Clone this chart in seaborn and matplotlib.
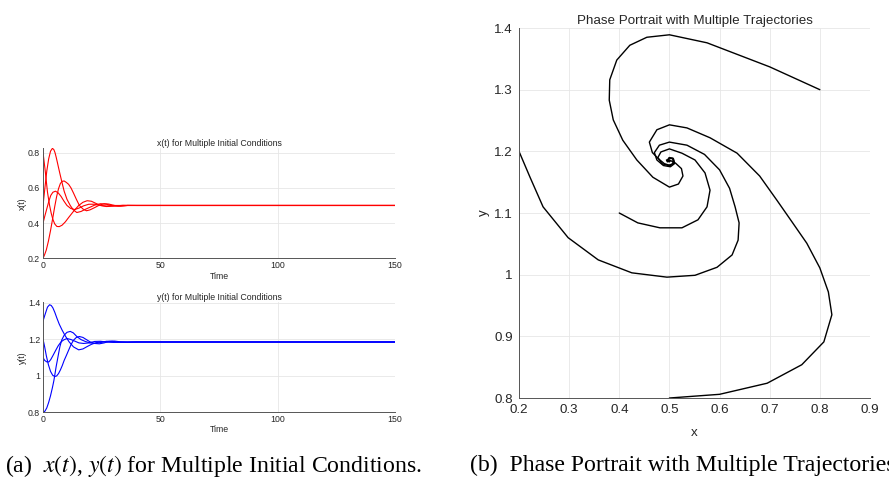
import matplotlib
matplotlib.use("Agg")
import matplotlib.pyplot as plt
import seaborn as sns

# trajectory A, starts at (0.8, 1.3)
t_a = [0, 0.9, 1.9, 2.8, 3.5, 4.2, 5.0, 5.9, 6.9, 8.1, 9.5, 11.1, 13.0, 15.2,
       17.0, 18.8, 20.6, 22.5, 24.5, 27, 30, 34, 40, 150]
x_a = [0.80, 0.70, 0.575, 0.50, 0.455, 0.421, 0.395, 0.381, 0.380, 0.388, 0.407,
       0.435, 0.467, 0.500, 0.518, 0.527, 0.524, 0.512, 0.500, 0.494, 0.496, 0.501,
       0.500, 0.500]
y_a = [1.300, 1.337, 1.376, 1.389, 1.385, 1.372, 1.348, 1.316, 1.283, 1.251, 1.218,
       1.186, 1.158, 1.142, 1.147, 1.160, 1.172, 1.181, 1.186, 1.186, 1.183, 1.184,
       1.185, 1.185]

# trajectory B, starts at (0.2, 1.2)
t_b = [0, 0.7, 1.4, 2.3, 3.2, 4.1, 5.0, 5.8, 6.6, 7.4, 8.2, 9.0, 9.9, 10.9, 11.9,
       13.0, 14.2, 15.5, 17, 18.5, 20, 22, 24, 26, 28, 30.5, 33, 36, 40, 150]
x_b = [0.200, 0.222, 0.248, 0.298, 0.358, 0.425, 0.495, 0.551, 0.595, 0.625, 0.637,
       0.639, 0.631, 0.620, 0.600, 0.570, 0.535, 0.500, 0.480, 0.470, 0.475, 0.488,
       0.502, 0.510, 0.508, 0.500, 0.496, 0.500, 0.500, 0.500]
y_b = [1.200, 1.158, 1.110, 1.060, 1.024, 1.003, 0.996, 0.999, 1.012, 1.032, 1.056,
       1.084, 1.110, 1.140, 1.170, 1.195, 1.210, 1.215, 1.210, 1.198, 1.186, 1.177,
       1.175, 1.180, 1.188, 1.190, 1.186, 1.183, 1.185, 1.185]

# trajectory C, starts at (0.4, 1.1)
t_c = [0, 0.7, 1.6, 2.5, 3.3, 4.2, 5.3, 6.5, 7.7, 8.9, 10.2, 11.8, 13.5, 15.3,
       17.3, 19.5, 22, 24.5, 27, 30, 35, 40, 150]
x_c = [0.400, 0.437, 0.481, 0.525, 0.557, 0.575, 0.581, 0.571, 0.551, 0.525, 0.500,
       0.483, 0.477, 0.485, 0.498, 0.507, 0.507, 0.500, 0.497, 0.500, 0.500, 0.500,
       0.500]
y_c = [1.100, 1.084, 1.076, 1.076, 1.089, 1.110, 1.137, 1.165, 1.186, 1.197, 1.204,
       1.199, 1.190, 1.180, 1.177, 1.180, 1.188, 1.189, 1.185, 1.184, 1.185, 1.185,
       1.185]

# trajectory D, starts at (0.5, 0.8)
t_d = [0, 0.8, 1.6, 2.4, 3.2, 4.0, 4.6, 5.1, 5.6, 6.1, 6.6, 7.2, 8.0, 9.0, 10.2,
       11.6, 12.9, 14.4, 16.2, 18, 20, 22, 24.5, 27, 29.5, 32, 36, 40, 150]
x_d = [0.500, 0.600, 0.695, 0.764, 0.808, 0.824, 0.817, 0.800, 0.774, 0.745, 0.715,
       0.680, 0.635, 0.581, 0.535, 0.500, 0.475, 0.460, 0.466, 0.478, 0.490, 0.502,
       0.510, 0.507, 0.499, 0.496, 0.500, 0.500, 0.500]
y_d = [0.800, 0.806, 0.824, 0.854, 0.891, 0.935, 0.972, 1.011, 1.051, 1.085, 1.120,
       1.160, 1.197, 1.222, 1.238, 1.243, 1.235, 1.215, 1.198, 1.188, 1.180, 1.177,
       1.182, 1.189, 1.189, 1.184, 1.184, 1.185, 1.185]

trajectories = [(t_a, x_a, y_a), (t_b, x_b, y_b), (t_c, x_c, y_c), (t_d, x_d, y_d)]

sns.set_style("whitegrid")
plt.rcParams["font.family"] = ["Liberation Sans", "DejaVu Sans"]
plt.rcParams["mathtext.fontset"] = "stix"

TEXT = "#262626"
AXIS = "#555555"


def style_ax(ax, fs, pad):
    ax.grid(True, color="#e6e6e6", lw=0.6)
    ax.set_axisbelow(True)
    for side in ["top", "right"]:
        ax.spines[side].set_visible(False)
    for side in ["left", "bottom"]:
        ax.spines[side].set_visible(True)
        ax.spines[side].set_color(AXIS)
        ax.spines[side].set_linewidth(0.7)
    ax.tick_params(direction="in", length=2.5, width=0.6, colors=AXIS,
                   labelcolor=TEXT, labelsize=fs, pad=pad)


fig = plt.figure(figsize=(8.89, 4.94), dpi=100)
ax1 = fig.add_axes([0.0484, 0.477, 0.396, 0.2227])
ax2 = fig.add_axes([0.0484, 0.1654, 0.396, 0.2225])
ax3 = fig.add_axes([0.5838, 0.1943, 0.3948, 0.749])

for t, x, y in trajectories:
    sns.lineplot(x=t, y=x, ax=ax1, color="red", lw=0.8, sort=False, estimator=None)
    sns.lineplot(x=t, y=y, ax=ax2, color="blue", lw=0.8, sort=False, estimator=None)
    sns.lineplot(x=x, y=y, ax=ax3, color="black", lw=1.0, sort=False, estimator=None)

small = 6.3
ax1.set_xlim(0, 150)
ax1.set_ylim(0.2, 0.824)
ax1.set_xticks([0, 50, 100, 150])
ax1.set_yticks([0.2, 0.4, 0.6, 0.8])
ax1.set_title("x(t) for Multiple Initial Conditions", fontsize=small, color=TEXT, pad=2)
ax1.set_xlabel("Time", fontsize=small, color=TEXT, labelpad=1)
ax1.set_ylabel("x(t)", fontsize=small, color=TEXT, labelpad=1)
style_ax(ax1, small, 2)

ax2.set_xlim(0, 150)
ax2.set_ylim(0.8, 1.402)
ax2.set_xticks([0, 50, 100, 150])
ax2.set_yticks([0.8, 1.0, 1.2, 1.4])
ax2.set_yticklabels(["0.8", "1", "1.2", "1.4"])
ax2.set_title("y(t) for Multiple Initial Conditions", fontsize=small, color=TEXT, pad=2)
ax2.set_xlabel("Time", fontsize=small, color=TEXT, labelpad=1)
ax2.set_ylabel("y(t)", fontsize=small, color=TEXT, labelpad=1)
style_ax(ax2, small, 2)

big = 9.6
ax3.set_xlim(0.2, 0.9)
ax3.set_ylim(0.8, 1.4)
ax3.set_xticks([0.2, 0.3, 0.4, 0.5, 0.6, 0.7, 0.8, 0.9])
ax3.set_yticks([0.8, 0.9, 1.0, 1.1, 1.2, 1.3, 1.4])
ax3.set_yticklabels(["0.8", "0.9", "1", "1.1", "1.2", "1.3", "1.4"])
ax3.set_title("Phase Portrait with Multiple Trajectories", fontsize=big, color=TEXT, pad=3)
ax3.set_xlabel("x", fontsize=big, color=TEXT, labelpad=8)
ax3.set_ylabel("y", fontsize=big, color=TEXT, labelpad=3)
style_ax(ax3, big, 4.5)

fig.text(0.006, 0.057, r"(a)  $x(t)$, $y(t)$ for Multiple Initial Conditions.",
         family="Liberation Serif", fontsize=17.1, va="center", color="black")
fig.text(0.529, 0.057, "(b)  Phase Portrait with Multiple Trajectories",
         family="Liberation Serif", fontsize=17.1, va="center", color="black")

fig.savefig("out.png", dpi=100)
